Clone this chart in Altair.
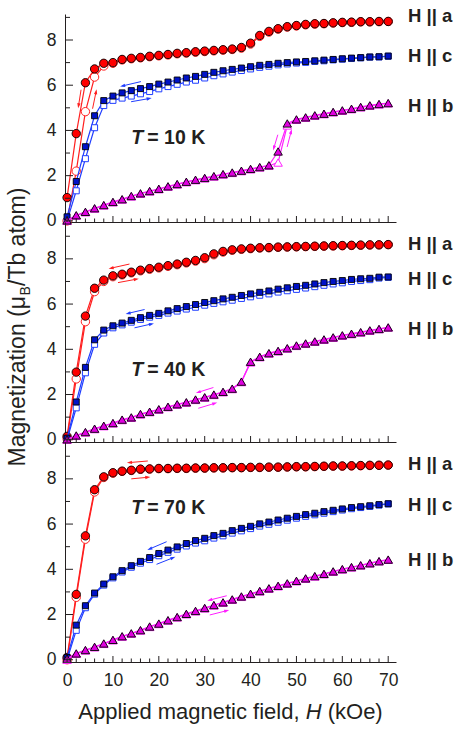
import math
import altair as alt
import pandas as pd

# ---------------- data ----------------
H_FIELD = [0, 2, 4, 6, 8, 10, 12, 14, 16, 18, 20, 22, 24, 26, 28, 30, 32, 34,
           36, 38, 40, 42, 44, 46, 48, 50, 52, 54, 56, 58, 60, 62, 64, 66, 68, 70]

# T = 10 K
A_UP_10 = [1.03, 3.86, 6.11, 6.72, 6.97, 7.00, 7.14, 7.19, 7.23, 7.28, 7.32, 7.36, 7.41, 7.44, 7.48, 7.51, 7.54, 7.57,
           7.60, 7.67, 7.86, 8.20, 8.38, 8.50, 8.59, 8.64, 8.69, 8.72, 8.73, 8.76, 8.78, 8.79, 8.81, 8.81, 8.82, 8.82]
A_DN_10 = [0.00, 2.20, 4.83, 6.36, 6.85, 6.97, 7.12, 7.17, 7.21, 7.26, 7.30, 7.34, 7.39, 7.42, 7.46, 7.49, 7.52, 7.55,
           7.58, 7.64, 7.82, 8.16, 8.35, 8.48, 8.57, 8.62, 8.67, 8.70, 8.72, 8.75, 8.77, 8.78, 8.80, 8.80, 8.81, 8.82]
C_UP_10 = [0.18, 1.74, 3.28, 4.65, 5.32, 5.52, 5.66, 5.76, 5.85, 5.94, 6.05, 6.14, 6.23, 6.32, 6.39, 6.48, 6.57, 6.64,
           6.70, 6.76, 6.82, 6.88, 6.92, 6.97, 7.00, 7.03, 7.05, 7.08, 7.11, 7.14, 7.17, 7.20, 7.22, 7.25, 7.26, 7.29]
C_DN_10 = [0.00, 1.33, 2.75, 4.12, 5.10, 5.33, 5.43, 5.52, 5.62, 5.72, 5.84, 5.94, 6.04, 6.14, 6.22, 6.32, 6.42, 6.50,
           6.58, 6.65, 6.72, 6.79, 6.84, 6.90, 6.94, 6.98, 7.01, 7.05, 7.08, 7.12, 7.15, 7.18, 7.21, 7.24, 7.25, 7.28]
B_UP_10 = [0.02, 0.25, 0.40, 0.56, 0.70, 0.84, 0.96, 1.10, 1.22, 1.32, 1.42, 1.53, 1.63, 1.73, 1.82, 1.90, 1.98, 2.07,
           2.14, 2.22, 2.30, 2.38, 2.46, 3.07, 4.31, 4.49, 4.58, 4.67, 4.74, 4.82, 4.89, 4.96, 5.04, 5.11, 5.17, 5.21]
B_DN_10 = [0.00, 0.23, 0.38, 0.54, 0.68, 0.82, 0.94, 1.08, 1.20, 1.30, 1.40, 1.51, 1.61, 1.71, 1.80, 1.88, 1.96, 2.05,
           2.12, 2.20, 2.28, 2.36, 2.44, 2.58, 4.22, 4.47, 4.56, 4.65, 4.72, 4.80, 4.87, 4.94, 5.02, 5.09, 5.15, 5.20]

# T = 40 K
A_UP_40 = [0.15, 2.99, 5.47, 6.70, 7.06, 7.25, 7.32, 7.41, 7.50, 7.57, 7.63, 7.70, 7.77, 7.85, 7.93, 8.05, 8.22, 8.33,
           8.40, 8.44, 8.47, 8.49, 8.50, 8.52, 8.53, 8.54, 8.55, 8.56, 8.57, 8.58, 8.59, 8.60, 8.61, 8.62, 8.62, 8.63]
A_DN_40 = [0.05, 2.69, 5.22, 6.55, 7.00, 7.21, 7.29, 7.38, 7.47, 7.54, 7.60, 7.67, 7.74, 7.82, 7.90, 8.01, 8.18, 8.30,
           8.38, 8.42, 8.45, 8.48, 8.49, 8.51, 8.52, 8.53, 8.54, 8.55, 8.56, 8.57, 8.58, 8.59, 8.60, 8.61, 8.62, 8.63]
C_UP_40 = [0.07, 1.67, 3.20, 4.42, 4.85, 5.04, 5.16, 5.28, 5.40, 5.50, 5.59, 5.70, 5.80, 5.89, 5.98, 6.07, 6.15, 6.23,
           6.30, 6.38, 6.45, 6.52, 6.58, 6.66, 6.72, 6.78, 6.83, 6.89, 6.95, 7.00, 7.04, 7.09, 7.12, 7.14, 7.19, 7.20]
C_DN_40 = [0.00, 1.41, 2.96, 4.22, 4.72, 4.95, 5.08, 5.20, 5.32, 5.42, 5.50, 5.60, 5.69, 5.78, 5.86, 5.95, 6.03, 6.10,
           6.17, 6.25, 6.32, 6.39, 6.45, 6.53, 6.59, 6.65, 6.71, 6.77, 6.83, 6.89, 6.94, 7.00, 7.04, 7.08, 7.15, 7.18]
B_UP_40 = [0.02, 0.19, 0.34, 0.49, 0.62, 0.74, 0.89, 0.99, 1.14, 1.24, 1.35, 1.46, 1.57, 1.66, 1.78, 1.88, 2.00, 2.12,
           2.26, 2.57, 3.45, 3.67, 3.83, 3.93, 4.05, 4.17, 4.26, 4.35, 4.44, 4.53, 4.62, 4.69, 4.76, 4.84, 4.90, 4.97]
B_DN_40 = [0.00, 0.17, 0.32, 0.47, 0.60, 0.72, 0.87, 0.97, 1.12, 1.22, 1.33, 1.44, 1.55, 1.64, 1.76, 1.86, 1.98, 2.10,
           2.24, 2.55, 3.42, 3.65, 3.81, 3.91, 4.03, 4.15, 4.24, 4.33, 4.42, 4.51, 4.60, 4.67, 4.74, 4.82, 4.89, 4.96]

# T = 70 K
A_UP_70 = [0.10, 2.89, 5.48, 7.52, 8.09, 8.27, 8.34, 8.38, 8.43, 8.44, 8.46, 8.46, 8.47, 8.47, 8.48, 8.48, 8.49, 8.49,
           8.50, 8.50, 8.51, 8.51, 8.52, 8.52, 8.53, 8.54, 8.54, 8.55, 8.56, 8.57, 8.57, 8.58, 8.59, 8.60, 8.60, 8.61]
A_DN_70 = [0.00, 2.76, 5.33, 7.42, 8.06, 8.25, 8.33, 8.37, 8.42, 8.43, 8.45, 8.45, 8.46, 8.46, 8.47, 8.47, 8.48, 8.48,
           8.49, 8.49, 8.50, 8.50, 8.51, 8.51, 8.52, 8.53, 8.53, 8.54, 8.55, 8.56, 8.56, 8.57, 8.58, 8.59, 8.60, 8.61]
C_UP_70 = [0.10, 1.53, 2.39, 2.95, 3.35, 3.67, 3.94, 4.16, 4.35, 4.52, 4.70, 4.85, 4.99, 5.14, 5.27, 5.37, 5.49, 5.59,
           5.71, 5.81, 5.90, 6.01, 6.09, 6.18, 6.26, 6.34, 6.42, 6.48, 6.55, 6.61, 6.67, 6.73, 6.77, 6.81, 6.86, 6.90]
C_DN_70 = [0.00, 1.30, 2.30, 2.90, 3.30, 3.62, 3.88, 4.09, 4.27, 4.43, 4.60, 4.75, 4.89, 5.03, 5.16, 5.26, 5.38, 5.48,
           5.60, 5.70, 5.80, 5.91, 5.99, 6.08, 6.17, 6.26, 6.34, 6.41, 6.48, 6.55, 6.62, 6.68, 6.73, 6.78, 6.84, 6.89]
B_UP_70 = [0.05, 0.28, 0.43, 0.57, 0.72, 0.88, 1.04, 1.17, 1.31, 1.47, 1.60, 1.75, 1.89, 2.03, 2.16, 2.29, 2.42, 2.54,
           2.67, 2.80, 2.92, 3.04, 3.16, 3.27, 3.38, 3.49, 3.60, 3.70, 3.80, 3.91, 4.01, 4.10, 4.18, 4.27, 4.36, 4.43]
B_DN_70 = [0.00, 0.26, 0.41, 0.55, 0.70, 0.86, 1.02, 1.15, 1.29, 1.45, 1.58, 1.73, 1.87, 2.01, 2.14, 2.27, 2.40, 2.52,
           2.65, 2.78, 2.90, 3.02, 3.14, 3.25, 3.36, 3.47, 3.58, 3.68, 3.78, 3.89, 3.99, 4.08, 4.17, 4.26, 4.35, 4.42]

TEMPS = ["10", "40", "70"]
SERIES = ["a", "c", "b"]
SERIES_DATA = {
    ("10", "a"): (A_UP_10, A_DN_10), ("10", "c"): (C_UP_10, C_DN_10), ("10", "b"): (B_UP_10, B_DN_10),
    ("40", "a"): (A_UP_40, A_DN_40), ("40", "c"): (C_UP_40, C_DN_40), ("40", "b"): (B_UP_40, B_DN_40),
    ("70", "a"): (A_UP_70, A_DN_70), ("70", "c"): (C_UP_70, C_DN_70), ("70", "b"): (B_UP_70, B_DN_70),
}

# sweep-direction arrows: (series, tail H, tail M, head H, head M)
ARROWS = {
    "10": [("a", 3.05, 5.80, 2.50, 5.09), ("a", 5.56, 4.96, 6.32, 5.71),
           ("c", 16.1, 6.16, 12.1, 5.97), ("c", 13.96, 5.27, 17.9, 5.41),
           ("b", 45.94, 3.81, 45.07, 3.22), ("b", 47.97, 3.27, 48.84, 3.95)],
    "40": [("a", 13.6, 7.77, 9.6, 7.59), ("a", 11.1, 6.95, 15.1, 7.10),
           ("c", 16.9, 5.76, 13.3, 5.59), ("c", 14.7, 4.95, 18.4, 5.12),
           ("b", 31.9, 2.31, 28.6, 2.10), ("b", 28.6, 1.39, 32.2, 1.61)],
    "70": [("a", 17.6, 8.79, 13.6, 8.72), ("a", 14.0, 8.00, 17.6, 8.07),
           ("c", 21.7, 5.22, 18.0, 4.90), ("c", 19.5, 4.22, 23.1, 4.51),
           ("b", 34.8, 2.83, 31.1, 2.64), ("b", 31.1, 1.98, 34.8, 2.17)],
}

LABEL_TEXT = {"a": "H || a", "c": "H || c", "b": "H || b"}
LABEL_M = {"10": {"a": 9.07, "c": 7.30, "b": 5.09},
           "40": {"a": 8.67, "c": 7.11, "b": 4.89},
           "70": {"a": 8.65, "c": 6.86, "b": 4.42}}
T_LABEL_POS = {"10": (14.0, 3.67), "40": (14.0, 3.10), "70": (14.0, 6.70)}

X_LABELS = [0, 10, 20, 30, 40, 50, 60, 70]
X_MAJOR = [0, 10, 20, 30, 40, 50, 60, 70]
X_MINOR = [2, 4, 6, 8, 12, 14, 16, 18, 22, 24, 26, 28, 32, 34, 36, 38, 42, 44, 46, 48,
           52, 54, 56, 58, 62, 64, 66, 68]
Y_LABELS = [0, 2, 4, 6, 8]
Y_MINOR = [1, 3, 5, 7, 9]

Y_TITLE = ["Magnetization (μ", "B", "/Tb atom)"]
X_TITLE = ["Applied magnetic field,", "H", "(kOe)"]

# ---------------- styles ----------------
FONT = "Liberation Sans"
TXT = "#231f20"
AX = "#231f20"
LINE_COLOR = {"a": "#ff1f1f", "c": "#1f3dff", "b": "#ff1fff"}
FILL_COLOR = {"a": "#ff0000", "c": "#0012c8", "b": "#e000e0"}
SHAPE = {"a": "circle", "c": "square", "b": "triangle-up"}
SIZE = {"a": 70, "c": 36, "b": 72}
W = 331
X_DOM = [-0.45, 71.7]
PANEL_H = {"10": 208, "40": 220, "70": 220}
Y_DOM = {"10": [-0.05, 9.15], "40": [-0.1, 9.63], "70": [-0.1, 9.63]}
KX = W / (X_DOM[1] - X_DOM[0])
KY = 208 / (9.15 + 0.05)
ARROW_PATH = "M0,-1L0.65,1L-0.65,1Z"

rows = []
for t in TEMPS:
    for s in SERIES:
        up, dn = SERIES_DATA[(t, s)]
        for h, m in zip(H_FIELD, up):
            rows.append({"T": t, "series": s, "branch": "up", "H": h, "M": m})
        for h, m in zip(H_FIELD, dn):
            rows.append({"T": t, "series": s, "branch": "dn", "H": h, "M": m})
df = pd.DataFrame(rows)


def panel(t, bottom, middle):
    height = PANEL_H[t]
    xs = alt.Scale(domain=X_DOM, nice=False, zero=False)
    ys = alt.Scale(domain=Y_DOM[t], nice=False, zero=False)
    x_axis = alt.Axis(values=X_LABELS, labels=bottom, ticks=False, tickSize=0, grid=False, title=None,
                      domainColor=AX, domainWidth=1, labelFontSize=17.5, labelPadding=9, labelColor=TXT,
                      labelFont=FONT)
    y_axis = alt.Axis(values=Y_LABELS, ticks=False, tickSize=0, grid=False, title=None,
                      domainColor=AX, domainWidth=1, labelFontSize=17.5, labelPadding=9, labelColor=TXT,
                      labelFont=FONT)
    X = lambda f: alt.X(f, scale=xs, axis=x_axis)
    Y = lambda f: alt.Y(f, scale=ys, axis=y_axis)
    d = df[df["T"] == t]
    layers = []
    for s in SERIES:
        ds = d[d["series"] == s]
        layers.append(alt.Chart(ds).mark_line(strokeWidth=1.2, color=LINE_COLOR[s]).encode(
            x=X("H:Q"), y=Y("M:Q"), detail="branch:N", order="H:Q"))
        layers.append(alt.Chart(ds[ds["branch"] == "dn"]).mark_point(
            shape=SHAPE[s], size=SIZE[s], filled=True, fill="white", stroke=LINE_COLOR[s],
            strokeWidth=1, opacity=1).encode(x=X("H:Q"), y=Y("M:Q")))
        layers.append(alt.Chart(ds[ds["branch"] == "up"]).mark_point(
            shape=SHAPE[s], size=SIZE[s], filled=True, fill=FILL_COLOR[s], stroke="#000000",
            strokeWidth=0.9, opacity=1).encode(x=X("H:Q"), y=Y("M:Q")))

    # inward ticks
    ymax = Y_DOM[t][1]
    layers.append(alt.Chart(pd.DataFrame({"v": X_MAJOR})).mark_rule(color=AX, strokeWidth=1).encode(
        x=X("v:Q"), y=alt.value(height), y2=alt.value(height - 6)))
    layers.append(alt.Chart(pd.DataFrame({"v": X_MINOR})).mark_rule(color=AX, strokeWidth=1).encode(
        x=X("v:Q"), y=alt.value(height), y2=alt.value(height - 3.5)))
    layers.append(alt.Chart(pd.DataFrame({"v": Y_LABELS})).mark_rule(color=AX, strokeWidth=1).encode(
        y=Y("v:Q"), x=alt.value(0), x2=alt.value(8)))
    layers.append(alt.Chart(pd.DataFrame({"v": [v for v in Y_MINOR if v < ymax]})).mark_rule(
        color=AX, strokeWidth=1).encode(y=Y("v:Q"), x=alt.value(0), x2=alt.value(5)))

    # arrows
    arr = pd.DataFrame([{"series": s, "tx": tx, "ty": ty, "hx": hx, "hy": hy,
                         "ang": math.degrees(math.atan2((hx - tx) * KX, (hy - ty) * KY)) % 360}
                        for (s, tx, ty, hx, hy) in ARROWS[t]])
    cscale = alt.Scale(domain=SERIES, range=[LINE_COLOR[s] for s in SERIES])
    layers.append(alt.Chart(arr).mark_rule(strokeWidth=1).encode(
        x=X("tx:Q"), y=Y("ty:Q"), x2="hx:Q", y2="hy:Q",
        color=alt.Color("series:N", scale=cscale, legend=None)))
    layers.append(alt.Chart(arr).mark_point(shape=ARROW_PATH, size=26, filled=True, opacity=1,
                                            strokeWidth=0).encode(
        x=X("hx:Q"), y=Y("hy:Q"), angle=alt.Angle("ang:Q", scale=None),
        color=alt.Color("series:N", scale=cscale, legend=None)))

    # series labels on the right
    lab = pd.DataFrame({"txt": [LABEL_TEXT[s] for s in SERIES], "m": [LABEL_M[t][s] for s in SERIES]})
    layers.append(alt.Chart(lab).mark_text(font=FONT, fontSize=18.5, fontWeight="bold", color=TXT,
                                           align="left", baseline="middle").encode(
        x=alt.value(W + 12), y=Y("m:Q"), text="txt:N"))

    # temperature label
    tx, ty = T_LABEL_POS[t]
    tl = pd.DataFrame({"x": [tx], "y": [ty], "t1": ["T"], "t2": ["= " + t + " K"]})
    layers.append(alt.Chart(tl).mark_text(font=FONT, fontSize=19.5, fontWeight="bold", fontStyle="italic",
                                          color=TXT, align="left", baseline="middle").encode(
        x=X("x:Q"), y=Y("y:Q"), text="t1:N"))
    layers.append(alt.Chart(tl).mark_text(font=FONT, fontSize=19.5, fontWeight="bold", color=TXT,
                                          align="left", baseline="middle", dx=16).encode(
        x=X("x:Q"), y=Y("y:Q"), text="t2:N"))

    if middle:
        py = 74
        layers.append(alt.Chart(pd.DataFrame({"s": [Y_TITLE[0]]})).mark_text(
            font=FONT, fontSize=23, color=TXT, angle=270, align="right", baseline="alphabetic").encode(
            x=alt.value(-40), y=alt.value(py), text="s:N"))
        layers.append(alt.Chart(pd.DataFrame({"s": [Y_TITLE[1]]})).mark_text(
            font=FONT, fontSize=14, color=TXT, angle=270, align="left", baseline="alphabetic", dy=5,
            dx=0.5).encode(x=alt.value(-40), y=alt.value(py), text="s:N"))
        layers.append(alt.Chart(pd.DataFrame({"s": [Y_TITLE[2]]})).mark_text(
            font=FONT, fontSize=23, color=TXT, angle=270, align="left", baseline="alphabetic",
            dx=10).encode(x=alt.value(-40), y=alt.value(py), text="s:N"))

    if bottom:
        by = height + 57
        layers.append(alt.Chart(pd.DataFrame({"s": [X_TITLE[0]]})).mark_text(
            font=FONT, fontSize=22, color=TXT, align="right", baseline="alphabetic").encode(
            x=alt.value(234.6), y=alt.value(by), text="s:N"))
        layers.append(alt.Chart(pd.DataFrame({"s": [X_TITLE[1]]})).mark_text(
            font=FONT, fontSize=22, color=TXT, fontStyle="italic", align="left",
            baseline="alphabetic").encode(x=alt.value(240.7), y=alt.value(by), text="s:N"))
        layers.append(alt.Chart(pd.DataFrame({"s": [X_TITLE[2]]})).mark_text(
            font=FONT, fontSize=22, color=TXT, align="left", baseline="alphabetic").encode(
            x=alt.value(262.7), y=alt.value(by), text="s:N"))

    return alt.layer(*layers).properties(width=W, height=height)


chart = alt.vconcat(
    panel("10", False, False),
    panel("40", False, True),
    panel("70", True, False),
    spacing=0, bounds="flush",
).properties(
    padding={"left": 6, "top": 6, "right": 3, "bottom": 6}
).configure_view(stroke=None)

chart.save("out.html", embed_options={"renderer": "svg", "actions": False})
